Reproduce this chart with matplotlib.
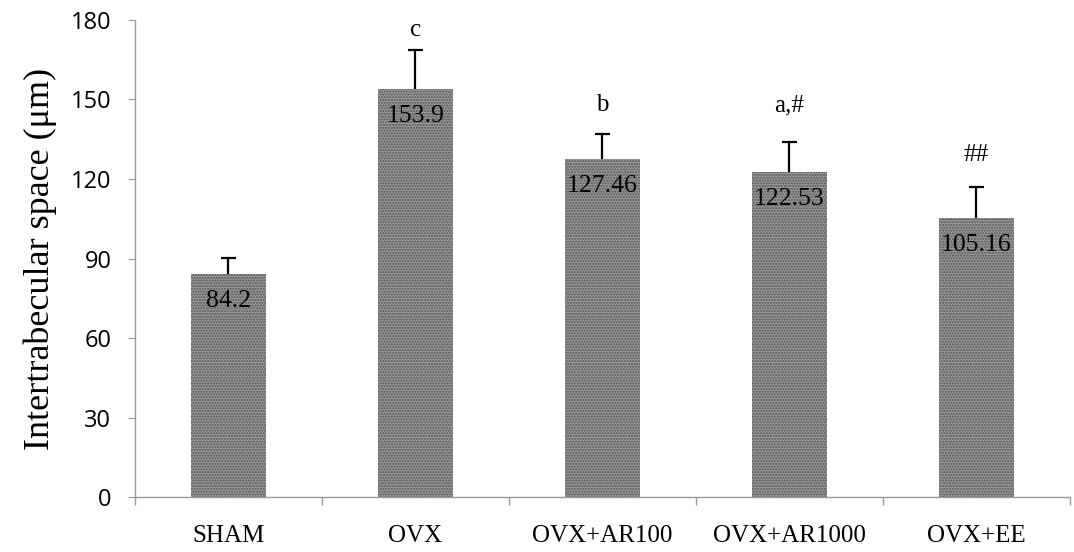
import numpy as np
import matplotlib.pyplot as plt

groups = ["SHAM", "OVX", "OVX+AR100", "OVX+AR1000", "OVX+EE"]
means = [84.2, 153.9, 127.46, 122.53, 105.16]
errors = [6.0, 14.7, 9.4, 11.3, 11.7]
marks = ["", "c", "b", "a,#", "##"]
mark_y = [None, 176.2, 147.9, 147.9, 129.0]

serif = "Liberation Serif"
sans = "Open Sans"

fig = plt.figure(figsize=(10.74, 5.52), dpi=100)
ax = fig.add_axes([0.1257, 0.0996, 0.8705, 0.8642])

x = np.arange(len(groups))
ax.bar(x, means, width=0.4, color="#979797", edgecolor="#555555",
       hatch="......", linewidth=0, zorder=2)

# upper-only error bars
tops = np.array(means) + np.array(errors)
ax.vlines(x, means, tops, color="black", linewidth=1.6, zorder=3)
ax.hlines(tops, x - 0.042, x + 0.042, color="black", linewidth=1.6, zorder=3)

# value labels inside the top of each bar
for xi, m in zip(x, means):
    ax.annotate(f"{m:g}", (xi, m), xytext=(0, -19.5), textcoords="offset points",
                ha="center", va="center", fontsize=18.5, family=serif, zorder=4)

# significance letters
for xi, s, yy in zip(x, marks, mark_y):
    if s:
        ax.text(xi, yy, s, ha="center", va="center", fontsize=18, family=serif)

ax.set_xlim(-0.5, 4.5)
ax.set_ylim(0, 180)
ax.set_yticks(np.arange(0, 181, 30))
ax.set_yticklabels([str(v) for v in range(0, 181, 30)], family=sans, fontsize=17)
ax.set_xticks(x)
ax.set_xticklabels(groups, family=serif, fontsize=18)
ax.tick_params(axis="x", length=0, pad=20)
ax.tick_params(axis="y", length=5, color="#999999", pad=12)

# category separators on the x axis
ax.set_xticks(np.arange(-0.5, 4.6, 1.0), minor=True)
ax.tick_params(axis="x", which="minor", length=6, color="#999999", width=1)

for side in ["top", "right"]:
    ax.spines[side].set_visible(False)
for side in ["left", "bottom"]:
    ax.spines[side].set_color("#999999")
    ax.spines[side].set_linestyle((0, (1, 1)))
    ax.spines[side].set_linewidth(1.0)

ax.set_ylabel("Intertrabecular space (\u03bcm)", family=serif, fontsize=26, labelpad=10)

fig.savefig("out.png", dpi=100)
